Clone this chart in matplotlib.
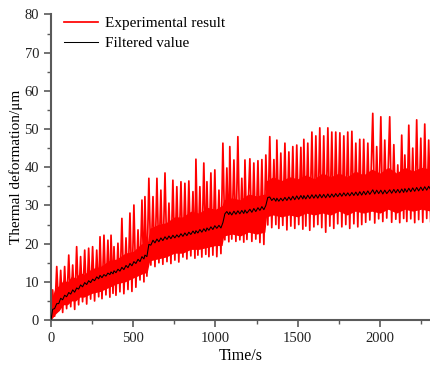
import matplotlib
matplotlib.use("Agg")
import matplotlib.pyplot as plt
from matplotlib.ticker import MultipleLocator

# spike tops of the measured signal (s, um)
PEAK_TIME = [
    10, 35, 59, 83, 108, 132, 156, 180, 205, 229,
    253, 278, 298, 322, 346, 365, 383, 407, 431, 456,
    480, 504, 529, 553, 571, 595, 620, 644, 668, 693,
    717, 741, 765, 790, 814, 838, 863, 881, 905, 929,
    948, 972, 996, 1021, 1045, 1069, 1087, 1112, 1136, 1160,
    1179, 1209, 1233, 1258, 1282, 1306, 1330, 1355, 1373, 1397,
    1422, 1446, 1470, 1494, 1519, 1537, 1561, 1586, 1610, 1634,
    1658, 1683, 1707, 1731, 1756, 1780, 1804, 1829, 1853, 1877,
    1901, 1926, 1956, 1980, 2005, 2029, 2059, 2084, 2108, 2132,
    2151, 2175, 2199, 2223, 2248, 2272, 2296,
]
PEAK_VALUE = [
    7.9, 14, 13, 14, 17, 14.4, 19.2, 16.6, 18.3, 18.8,
    19.2, 18.3, 21.8, 22.2, 20.9, 22.2, 19.2, 20.1, 26.6, 21.5,
    28, 30.1, 23.6, 31.4, 32.3, 37.1, 32.3, 37.1, 34, 38.5,
    30.6, 36.6, 34.9, 36.2, 35.8, 36.4, 33.6, 42.1, 34.9, 41.1,
    36.2, 38.5, 39.3, 34, 46.3, 39.8, 45.4, 41.9, 48, 37.1,
    41.9, 42.2, 41.1, 41.7, 42.0, 43.2, 48, 42, 47.1, 43.7,
    46.3, 44, 45.4, 45.8, 45.2, 47.3, 46.3, 49.2, 48.2, 50.3,
    48.2, 50.3, 49.2, 49.2, 49.0, 48.2, 49.2, 49.4, 46.3, 47.3,
    47.3, 46.3, 54.1, 45.4, 53.2, 47.1, 53.2, 45.9, 40.6, 48.4,
    43.2, 51, 45, 52.4, 47.6, 51.3, 47.1,
]

# lower swings of the measured signal
TROUGH_TIME = [
    22, 47, 71, 95, 120, 144, 168, 192, 217, 241,
    265, 290, 310, 334, 358, 377, 395, 419, 443, 468,
    492, 516, 541, 565, 583, 607, 632, 656, 680, 705,
    729, 753, 777, 802, 826, 850, 875, 893, 917, 941,
    960, 984, 1008, 1033, 1057, 1081, 1099, 1124, 1148, 1172,
    1191, 1221, 1245, 1270, 1294, 1318, 1342, 1367, 1385, 1409,
    1434, 1458, 1482, 1506, 1531, 1549, 1573, 1598, 1622, 1646,
    1670, 1695, 1719, 1743, 1768, 1792, 1816, 1841, 1865, 1889,
    1913, 1938, 1968, 1992, 2017, 2041, 2071, 2096, 2120, 2144,
    2163, 2187, 2211, 2235, 2260, 2284, 2308,
]
TROUGH_VALUE = [
    1.0, 2.5, 2.0, 3.0, 3.5, 2.8, 4.0, 4.8, 4.2, 5.5,
    5.0, 6.1, 5.6, 6.6, 6.0, 7.0, 6.5, 7.4, 6.9, 8.0,
    7.5, 8.6, 10.5, 10.0, 11.5, 14.4, 14.0, 15.0, 14.6, 15.3,
    14.8, 15.7, 15.2, 16.5, 16.0, 16.8, 16.2, 17.0, 16.5, 17.2,
    16.6, 17.0, 16.6, 17.4, 21.0, 20.5, 21.2, 20.6, 21.0, 20.4,
    21.1, 20.6, 21.2, 20.3, 19.8, 24.9, 24.2, 25.0, 24.0, 24.8,
    23.6, 24.6, 24.0, 25.0, 23.8, 24.6, 23.5, 24.4, 25.0, 24.2,
    23.0, 24.6, 24.0, 25.2, 24.4, 25.0, 24.0, 25.2, 24.4, 25.0,
    25.6, 26.2, 25.4, 26.5, 25.8, 26.7, 25.6, 26.4, 25.5, 26.6,
    25.8, 26.5, 25.5, 26.3, 25.6, 26.6, 25.8,
]

# dense core of the measured signal
BAND_TIME = [
    0, 25, 50, 75, 100, 125, 150, 175, 200, 250,
    300, 350, 400, 450, 500, 550, 585, 600, 650, 700,
    750, 800, 850, 900, 950, 1000, 1040, 1050, 1100, 1150,
    1200, 1250, 1300, 1310, 1350, 1400, 1450, 1500, 1550, 1600,
    1650, 1700, 1750, 1800, 1850, 1900, 1950, 2000, 2050, 2100,
    2150, 2200, 2250, 2310,
]
BAND_LOW = [
    0, 1.5, 2.5, 4, 4, 5, 5, 6, 6, 7,
    7.5, 8.5, 9.5, 10, 11, 12, 12.5, 15.5, 16, 16.5,
    17.5, 17.5, 18.5, 18.5, 19, 19.5, 19.5, 22, 22.5, 22,
    23, 22.5, 23, 27, 27.5, 27, 27.5, 27, 28, 27.5,
    28, 27.5, 28.5, 27.5, 28.5, 28, 28.5, 28, 29, 28,
    29, 28.5, 29, 28.5,
]
BAND_HIGH = [
    5, 8.5, 9, 10.5, 10, 11.5, 11, 12.5, 12, 13.5,
    14, 15.5, 16, 17.5, 18, 20, 20, 24, 25, 25.5,
    27, 27, 28.5, 28, 29.5, 29, 30, 31.5, 32, 31.5,
    33, 32.5, 33, 36.5, 37.5, 36.5, 37.5, 37, 38, 37,
    38.5, 37.5, 38.5, 37.5, 39, 38, 39.5, 38.5, 40, 38.5,
    40, 39, 40, 39.5,
]

# filtered curve, read at the spike tops and at the lower swings
FILT_AT_PEAK = [
    2.8, 4.3, 5.7, 6.5, 7.2, 7.9, 8.4, 9.2, 9.8, 10.3,
    10.7, 11.3, 11.7, 11.9, 12.3, 12.6, 12.9, 13.3, 13.8, 14.3,
    14.8, 15.3, 15.9, 16.6, 17.0, 19.8, 20.9, 21.2, 21.5, 21.8,
    22.0, 22.2, 22.3, 22.6, 22.8, 23.0, 23.3, 23.4, 23.7, 23.9,
    24.1, 24.4, 24.7, 24.8, 25.5, 28.4, 28.3, 28.5, 28.6, 28.7,
    28.8, 29.0, 29.2, 29.4, 29.7, 30.0, 32.2, 31.9, 31.9, 31.9,
    32.1, 32.2, 32.4, 32.5, 32.6, 32.6, 32.7, 32.8, 32.8, 32.9,
    32.9, 33.0, 33.0, 33.1, 33.2, 33.3, 33.3, 33.4, 33.5, 33.6,
    33.7, 33.8, 34.1, 34.0, 34.0, 34.0, 34.1, 34.2, 34.2, 34.3,
    34.4, 34.5, 34.6, 34.7, 34.8, 34.9, 35.0,
]
FILT_AT_TROUGH = [
    3.0, 4.3, 5.3, 6.1, 6.8, 7.3, 8.1, 8.7, 9.3, 9.8,
    10.3, 10.8, 11.1, 11.5, 11.9, 12.1, 12.4, 12.8, 13.2, 13.7,
    14.2, 14.8, 15.3, 16.0, 16.6, 19.6, 20.2, 20.5, 20.8, 21.1,
    21.3, 21.5, 21.7, 21.9, 22.1, 22.4, 22.6, 22.8, 23.0, 23.2,
    23.5, 23.7, 24.0, 24.1, 27.8, 27.6, 27.5, 27.7, 27.8, 27.9,
    28.0, 28.2, 28.4, 28.7, 28.9, 32.1, 31.3, 31.1, 31.1, 31.2,
    31.3, 31.4, 31.5, 31.6, 31.7, 31.7, 31.8, 31.9, 31.9, 32.0,
    32.0, 32.1, 32.2, 32.3, 32.4, 32.5, 32.5, 32.6, 32.6, 32.7,
    32.8, 32.9, 33.0, 33.1, 33.0, 33.1, 33.2, 33.3, 33.3, 33.4,
    33.5, 33.6, 33.7, 33.8, 33.9, 34.0, 34.1,
]

SPINE_COLOR = "#5a5a5a"


def interleave(first, second):
    out = []
    for a, b in zip(first, second):
        out.extend([a, b])
    return out


def main():
    plt.rcParams.update({
        "font.family": ["Liberation Serif", "DejaVu Serif"],
        "mathtext.fontset": "stix",
    })
    fig = plt.figure(figsize=(4.31, 3.70), dpi=100)
    ax = fig.add_axes([0.1183, 0.135, 0.8817, 0.826])

    sig_t = [0] + interleave(PEAK_TIME, TROUGH_TIME)
    sig_v = [0] + interleave(PEAK_VALUE, TROUGH_VALUE)
    ax.fill_between(BAND_TIME, BAND_LOW, BAND_HIGH, color="red", lw=0, zorder=1)
    ax.plot(sig_t, sig_v, color="red", lw=1.25, label="Experimental result", zorder=2)

    filt_v = [0] + interleave(FILT_AT_PEAK, FILT_AT_TROUGH)
    ax.plot(sig_t, filt_v, color="black", lw=0.75, label="Filtered value", zorder=3)

    ax.set_xlim(0, 2310)
    ax.set_ylim(0, 80)
    ax.xaxis.set_major_locator(MultipleLocator(500))
    ax.xaxis.set_minor_locator(MultipleLocator(250))
    ax.yaxis.set_major_locator(MultipleLocator(10))
    ax.yaxis.set_minor_locator(MultipleLocator(5))

    for side in ("top", "right"):
        ax.spines[side].set_visible(False)
    for side in ("left", "bottom"):
        ax.spines[side].set_color(SPINE_COLOR)
        ax.spines[side].set_linewidth(1.5)
    ax.tick_params(which="major", length=5, width=1.2, color=SPINE_COLOR,
                   labelsize=10.5, labelcolor="#222222")
    ax.tick_params(which="minor", length=3, width=1.0, color=SPINE_COLOR)

    ax.set_xlabel("Time/s", fontsize=11.5, labelpad=2)
    ax.set_ylabel("Thermal deformation/\u03bcm", fontsize=11, labelpad=1)

    ax.legend(loc="upper left", frameon=False, fontsize=11,
              handlelength=2.2, handletextpad=0.5, labelspacing=0.4,
              borderaxespad=0.0, bbox_to_anchor=(0.018, 1.013))

    fig.savefig("out.png", dpi=100)


if __name__ == "__main__":
    main()
